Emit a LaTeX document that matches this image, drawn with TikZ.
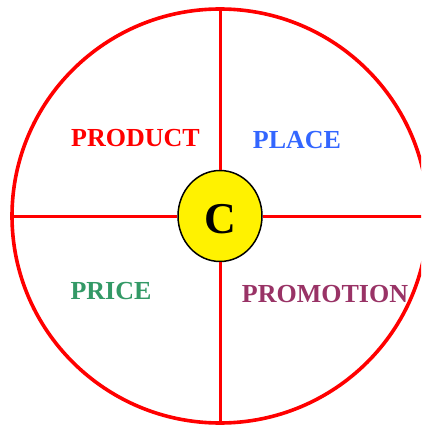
\documentclass[tikz,border=0pt]{standalone}
\usepackage{fontspec}
\setmainfont{Liberation Serif}
\usetikzlibrary{shapes.geometric}
\definecolor{mixRed}{RGB}{255,0,0}
\definecolor{mixBlue}{RGB}{51,102,255}
\definecolor{mixGreen}{RGB}{51,153,102}
\definecolor{mixPurple}{RGB}{153,51,102}
\tikzset{
    mixLabel/.style={anchor=base, font=\fontsize{26}{26}\selectfont\bfseries, inner sep=0pt},
    spoke/.style={draw=mixRed, line width=3pt}
}

\begin{document}
\begin{tikzpicture}[x=1pt, y=-1pt]
\useasboundingbox (0,0) rectangle (421,427);
\clip (0,0) rectangle (421,427);
% outer wheel
\node[ellipse, draw=mixRed, line width=3.6pt, minimum width=416pt, minimum height=414pt, inner sep=0pt] (ring) at (220,216) {};

% centre
\node[ellipse, draw=black, line width=1.5pt, fill=yellow, minimum width=84pt, minimum height=91pt, inner sep=0pt,
      text height=35pt, font=\fontsize{44}{44}\selectfont\bfseries] (c) at (220,216) {C};

% spokes
\draw[spoke] (c.north) -- (ring.north);
\draw[spoke] (c.south) -- (ring.south);
\draw[spoke] (c.west) -- (ring.west);
\draw[spoke] (c.east) -- (ring.east);

% quadrants
\node[mixLabel, text=mixRed] (product) at (135.5,147) {PRODUCT};
\node[mixLabel, text=mixBlue] (place) at (297,149) {PLACE};
\node[mixLabel, text=mixGreen] (price) at (111,299) {PRICE};
\node[mixLabel, text=mixPurple] (promotion) at (325,302) {PROMOTION};
\end{tikzpicture}
\end{document}
